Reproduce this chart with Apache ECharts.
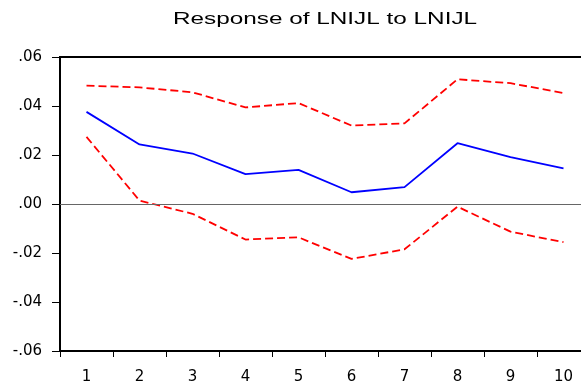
<!DOCTYPE html>
<html>
<head>
<meta charset="utf-8">
<script src="https://cdn.jsdelivr.net/npm/echarts@6/dist/echarts.min.js"></script>
<style>html,body{margin:0;padding:0;background:#fff}#c{width:581px;height:383px}</style>
</head>
<body>
<div id="c"></div>
<script>
var titleText = 'Response of LNIJL to LNIJL';
var categories = ['1','2','3','4','5','6','7','8','9','10'];
var response = [0.0376, 0.0243, 0.0206, 0.0122, 0.0139, 0.0048, 0.0069, 0.0248, 0.0191, 0.0145];
var upperBand = [0.0483, 0.0476, 0.0456, 0.0394, 0.0412, 0.0320, 0.0329, 0.0509, 0.0493, 0.0453];
var lowerBand = [0.0274, 0.0014, -0.0040, -0.0145, -0.0136, -0.0224, -0.0185, -0.0011, -0.0113, -0.0156];
var yTicks = [-0.06, -0.04, -0.02, 0.00, 0.02, 0.04, 0.06];

function fmt(v){
  var s = Math.abs(v).toFixed(2).replace(/^0/, '');
  return (v < -1e-9 ? '-' : '') + s;
}

var chart = echarts.init(document.getElementById('c'), null, {renderer:'canvas'});
var labelFont = 'DejaVu Sans, sans-serif';
chart.setOption({
  animation: false,
  graphic: [{
    type: 'text', x: 325, y: 20, scaleX: 1.52, scaleY: 1,
    style: {text: titleText, fontFamily: 'Liberation Sans, Arial, sans-serif', fontSize: 16, fill: '#000', align: 'center', verticalAlign: 'middle'}
  }],
  grid: {left: 60, top: 57, width: 530, height: 294, outerBoundsMode: 'none', containLabel: false,
         show: true, borderColor: '#000', borderWidth: 2, backgroundColor: 'transparent'},
  xAxis: {
    type: 'category', data: categories, boundaryGap: true,
    axisLine: {show: false, onZero: false},
    axisTick: {show: true, length: 6, lineStyle: {color: '#000', width: 1}},
    axisLabel: {fontFamily: labelFont, fontSize: 15, color: '#000', margin: 19},
    splitLine: {show: false}
  },
  yAxis: {
    type: 'value', min: yTicks[0], max: yTicks[yTicks.length-1], interval: 0.02,
    axisLine: {show: false},
    axisTick: {show: true, length: 8, lineStyle: {color: '#000', width: 1}},
    axisLabel: {fontFamily: labelFont, fontSize: 15, color: '#000', margin: 18, formatter: fmt},
    splitLine: {show: false}
  },
  series: [
    {type: 'line', data: response, symbol: 'none', lineStyle: {color: '#0000ff', width: 1.8},
     markLine: {silent: true, symbol: 'none', label: {show: false}, lineStyle: {color: '#666', width: 1, type: 'solid'}, data: [{yAxis: 0}]}},
    {type: 'line', data: upperBand, symbol: 'none', lineStyle: {color: '#ff0000', width: 1.8, type: [8,4]}},
    {type: 'line', data: lowerBand, symbol: 'none', lineStyle: {color: '#ff0000', width: 1.8, type: [8,4]}}
  ]
});
</script>
</body>
</html>
